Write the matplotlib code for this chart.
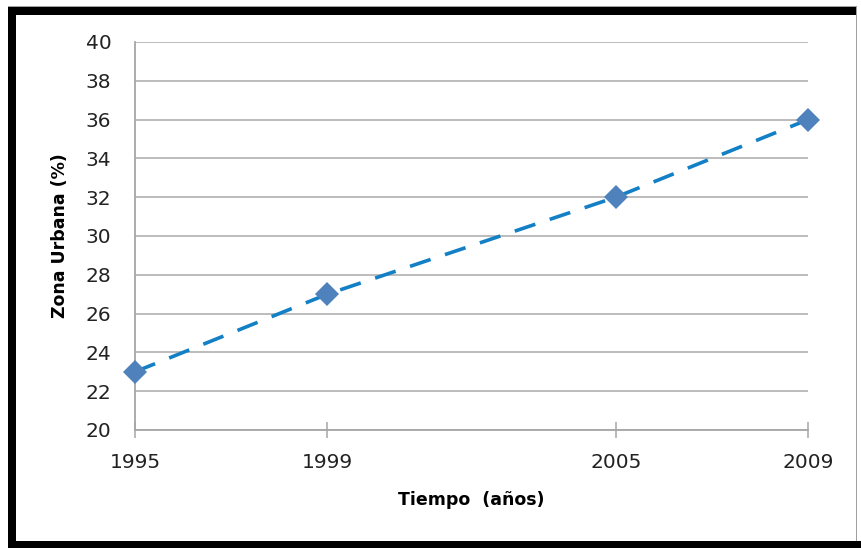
import matplotlib.pyplot as plt
from matplotlib.patches import Rectangle

# datos
anios = [1995, 1999, 2005, 2009]
zona_urbana = [23, 27, 32, 36]
yticks = list(range(20, 41, 2))

W, H = 861, 548
fig = plt.figure(figsize=(W / 100, H / 100), dpi=100)
fig.patch.set_facecolor('white')

# area del grafico (en pixeles de la imagen)
ax = fig.add_axes([135 / W, 1 - 430 / H, (808 - 135) / W, (430 - 42) / H])

ax.plot(anios, zona_urbana, color='#1380C6', lw=2.6, dashes=(6, 4.2),
        dash_capstyle='butt', zorder=3, clip_on=False)
ax.plot(anios, zona_urbana, 'D', color='#4F81BD', markersize=12,
        markeredgewidth=0, zorder=4, clip_on=False)

ax.set_xlim(1995, 2009)
ax.set_ylim(20, 40)
ax.set_xticks(anios)
ax.set_yticks(yticks)
ax.grid(axis='y', color='#B0B0B0', lw=1.2)
ax.set_axisbelow(True)

for s in ['top', 'right']:
    ax.spines[s].set_visible(False)
for s in ['left', 'bottom']:
    ax.spines[s].set_color('#A6A6A6')
    ax.spines[s].set_linewidth(1.3)

ax.tick_params(axis='y', length=0, pad=17, labelsize=14.5, labelcolor='#222222')
ax.tick_params(axis='x', direction='inout', length=11, width=1.1, color='#A6A6A6',
               pad=11, labelsize=14.5, labelcolor='#222222')

ax.set_xlabel('Tiempo  (años)', fontsize=12.5, fontweight='bold', labelpad=14)
ax.set_ylabel('Zona Urbana (%)', fontsize=12.5, fontweight='bold', labelpad=12)

# marco exterior
def px_rect(x0, y0, x1, y1, color):
    fig.add_artist(Rectangle((x0 / W, 1 - y1 / H), (x1 - x0) / W, (y1 - y0) / H,
                             transform=fig.transFigure, color=color, lw=0))

px_rect(8, 6, 857, 7, '#A0A0A0')
px_rect(856, 7, 857, 541, '#A0A0A0')
px_rect(8, 7, 856, 15, 'black')
px_rect(8, 7, 16, 548, 'black')
px_rect(8, 541, 861, 548, 'black')

fig.savefig('out.png', dpi=100)
